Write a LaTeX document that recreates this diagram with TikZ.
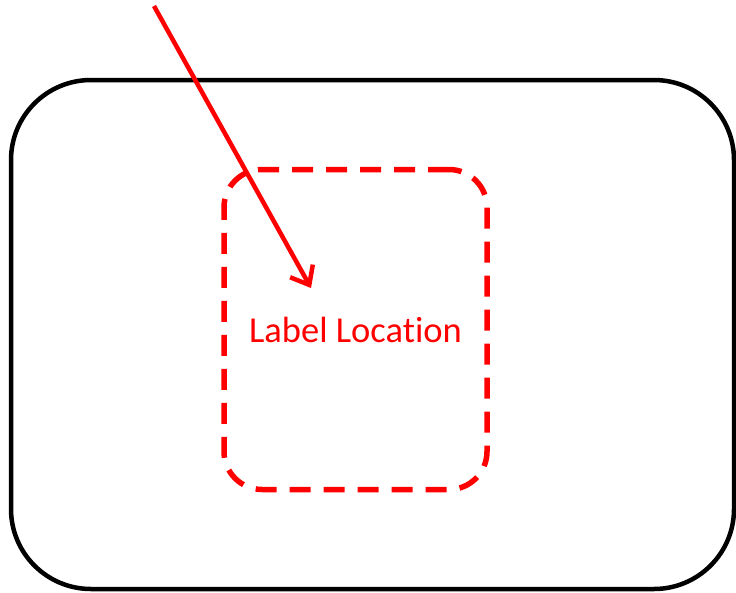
\documentclass[tikz,border=0pt]{standalone}
\usepackage{fontspec}
\setmainfont{Carlito}[Ligatures=NoCommon]
\usetikzlibrary{arrows.meta}
\begin{document}
\begin{tikzpicture}[x=1pt,y=-1pt]
	\tikzstyle{outer-box}=[rectangle,rounded corners=80pt,draw=black,line width=4.5pt,minimum width=723pt,minimum height=509pt,inner sep=0pt]
	\tikzstyle{label-box}=[rectangle,rounded corners=38pt,draw=red,line width=5.5pt,dash pattern=on 21pt off 13pt,text=red,minimum width=263pt,minimum height=320pt,inner sep=0pt,font=\fontsize{36.5}{40}\selectfont]
	\tikzstyle{pointer}=[draw=red,line width=4.5pt,-{Straight Barb[length=16pt,width=26pt]}]
	\useasboundingbox (0,0) rectangle (736,592);

	% boxes
	\node[outer-box] 	(frame)	at (372.5,334.5)	{};
	\node[label-box] 	(area)	at (355.5,329.5)	{\raisebox{-6pt}{Label Location}};

	% arrow
	\coordinate (tail) at (154,6);
	\coordinate (tip) at (311,288);
	\draw[pointer] (tail) -- (tip);
\end{tikzpicture}
\end{document}
